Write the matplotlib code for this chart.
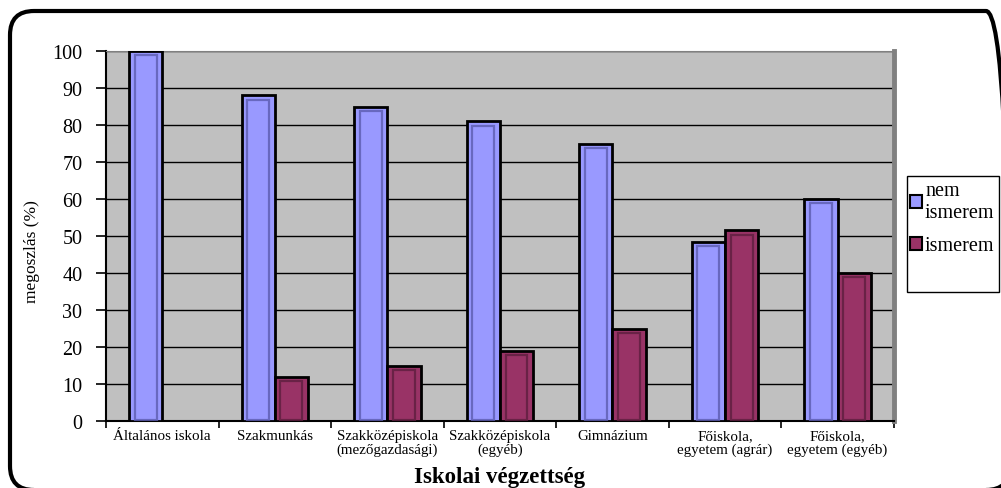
import numpy as np
import matplotlib.pyplot as plt
from matplotlib.patches import FancyBboxPatch, Rectangle

plt.rcParams['font.family'] = ['Liberation Serif', 'DejaVu Serif']

# iskolai végzettség szerinti megoszlás
kategoriak = ['Általános iskola', 'Szakmunkás', 'Szakközépiskola\n(mezőgazdasági)',
              'Szakközépiskola\n(egyéb)', 'Gimnázium', 'Főiskola,\negyetem (agrár)',
              'Főiskola,\negyetem (egyéb)']
nem_ismerem = [100, 88, 85, 81, 75, 48.4, 60]
ismerem = [0, 12, 15, 19, 25, 51.6, 40]

fig = plt.figure(figsize=(10.01, 4.89), dpi=100)
ax = fig.add_axes([0.1059, 0.137, 0.787, 0.7566])
ax.set_facecolor('#C0C0C0')

x = np.arange(len(kategoriak))
w = 0.295
series = [(x - w / 2, np.array(nem_ismerem, float), '#9999FF', '#5c5cb0', 'nem\nismerem'),
          (x + w / 2, np.array(ismerem, float), '#993366', '#5e1e3f', 'ismerem')]
for xs, v, col, rim, lab in series:
    m = v > 0
    ax.bar(xs[m], v[m], w, color=col, edgecolor='black', linewidth=2, zorder=3, label=lab)
    # darker inner rim for a bevelled look
    ax.bar(xs[m], v[m] - 1.6, w - 0.1, bottom=0.4, fill=False, edgecolor=rim,
           linewidth=1.6, zorder=4, alpha=0.8)

ax.set_xlim(-0.5, len(kategoriak) - 0.5)
ax.set_ylim(0, 100)
ax.set_yticks(range(0, 101, 10))
ax.yaxis.grid(True, color='black', linewidth=1)
ax.set_axisbelow(True)

ax.set_xticks(np.arange(-0.5, len(kategoriak), 1), minor=False)
ax.set_xticklabels([])
ax.set_xticks(x, minor=True)
ax.set_xticklabels(kategoriak, minor=True, fontsize=10.8, linespacing=1.05)
ax.tick_params(axis='x', which='minor', length=0, pad=6)
ax.tick_params(axis='x', which='major', length=5, width=1.2, direction='out')
ax.tick_params(axis='y', length=7, width=1.2, labelsize=14.5, pad=10)

for s in ['left', 'bottom']:
    ax.spines[s].set_linewidth(1.5)
ax.spines['top'].set_color('#808080')
ax.spines['right'].set_color('#808080')
ax.spines['right'].set_linewidth(3.5)

ax.set_ylabel('megoszlás (%)', fontsize=12.5, va='center')
ax.yaxis.set_label_coords(-0.094, 0.46)
ax.set_xlabel('Iskolai végzettség', fontsize=16.5, fontweight='bold', va='baseline')
ax.xaxis.set_label_coords(0.5, -0.1648)

leg = fig.legend(loc='upper left', bbox_to_anchor=(0.909, 0.627), fontsize=14.5,
                 frameon=False, handlelength=0.6, handleheight=0.6, handletextpad=0.15,
                 borderpad=0, labelspacing=0.7, borderaxespad=0)
for h in leg.legend_handles:
    h.set_linewidth(1.5)
# legend frame
fig.patches.append(Rectangle((907, 489 - 293), 92, 116, transform=None, fill=False,
                             edgecolor='black', linewidth=1))

# rounded outer frame, in pixels, running past the right and bottom edges
fig.patches.append(FancyBboxPatch((10, -2), 1000, 479, boxstyle='round,pad=0,rounding_size=24',
                                  transform=None, fill=False, edgecolor='black', linewidth=3))

plt.savefig('out.png', dpi=100)
